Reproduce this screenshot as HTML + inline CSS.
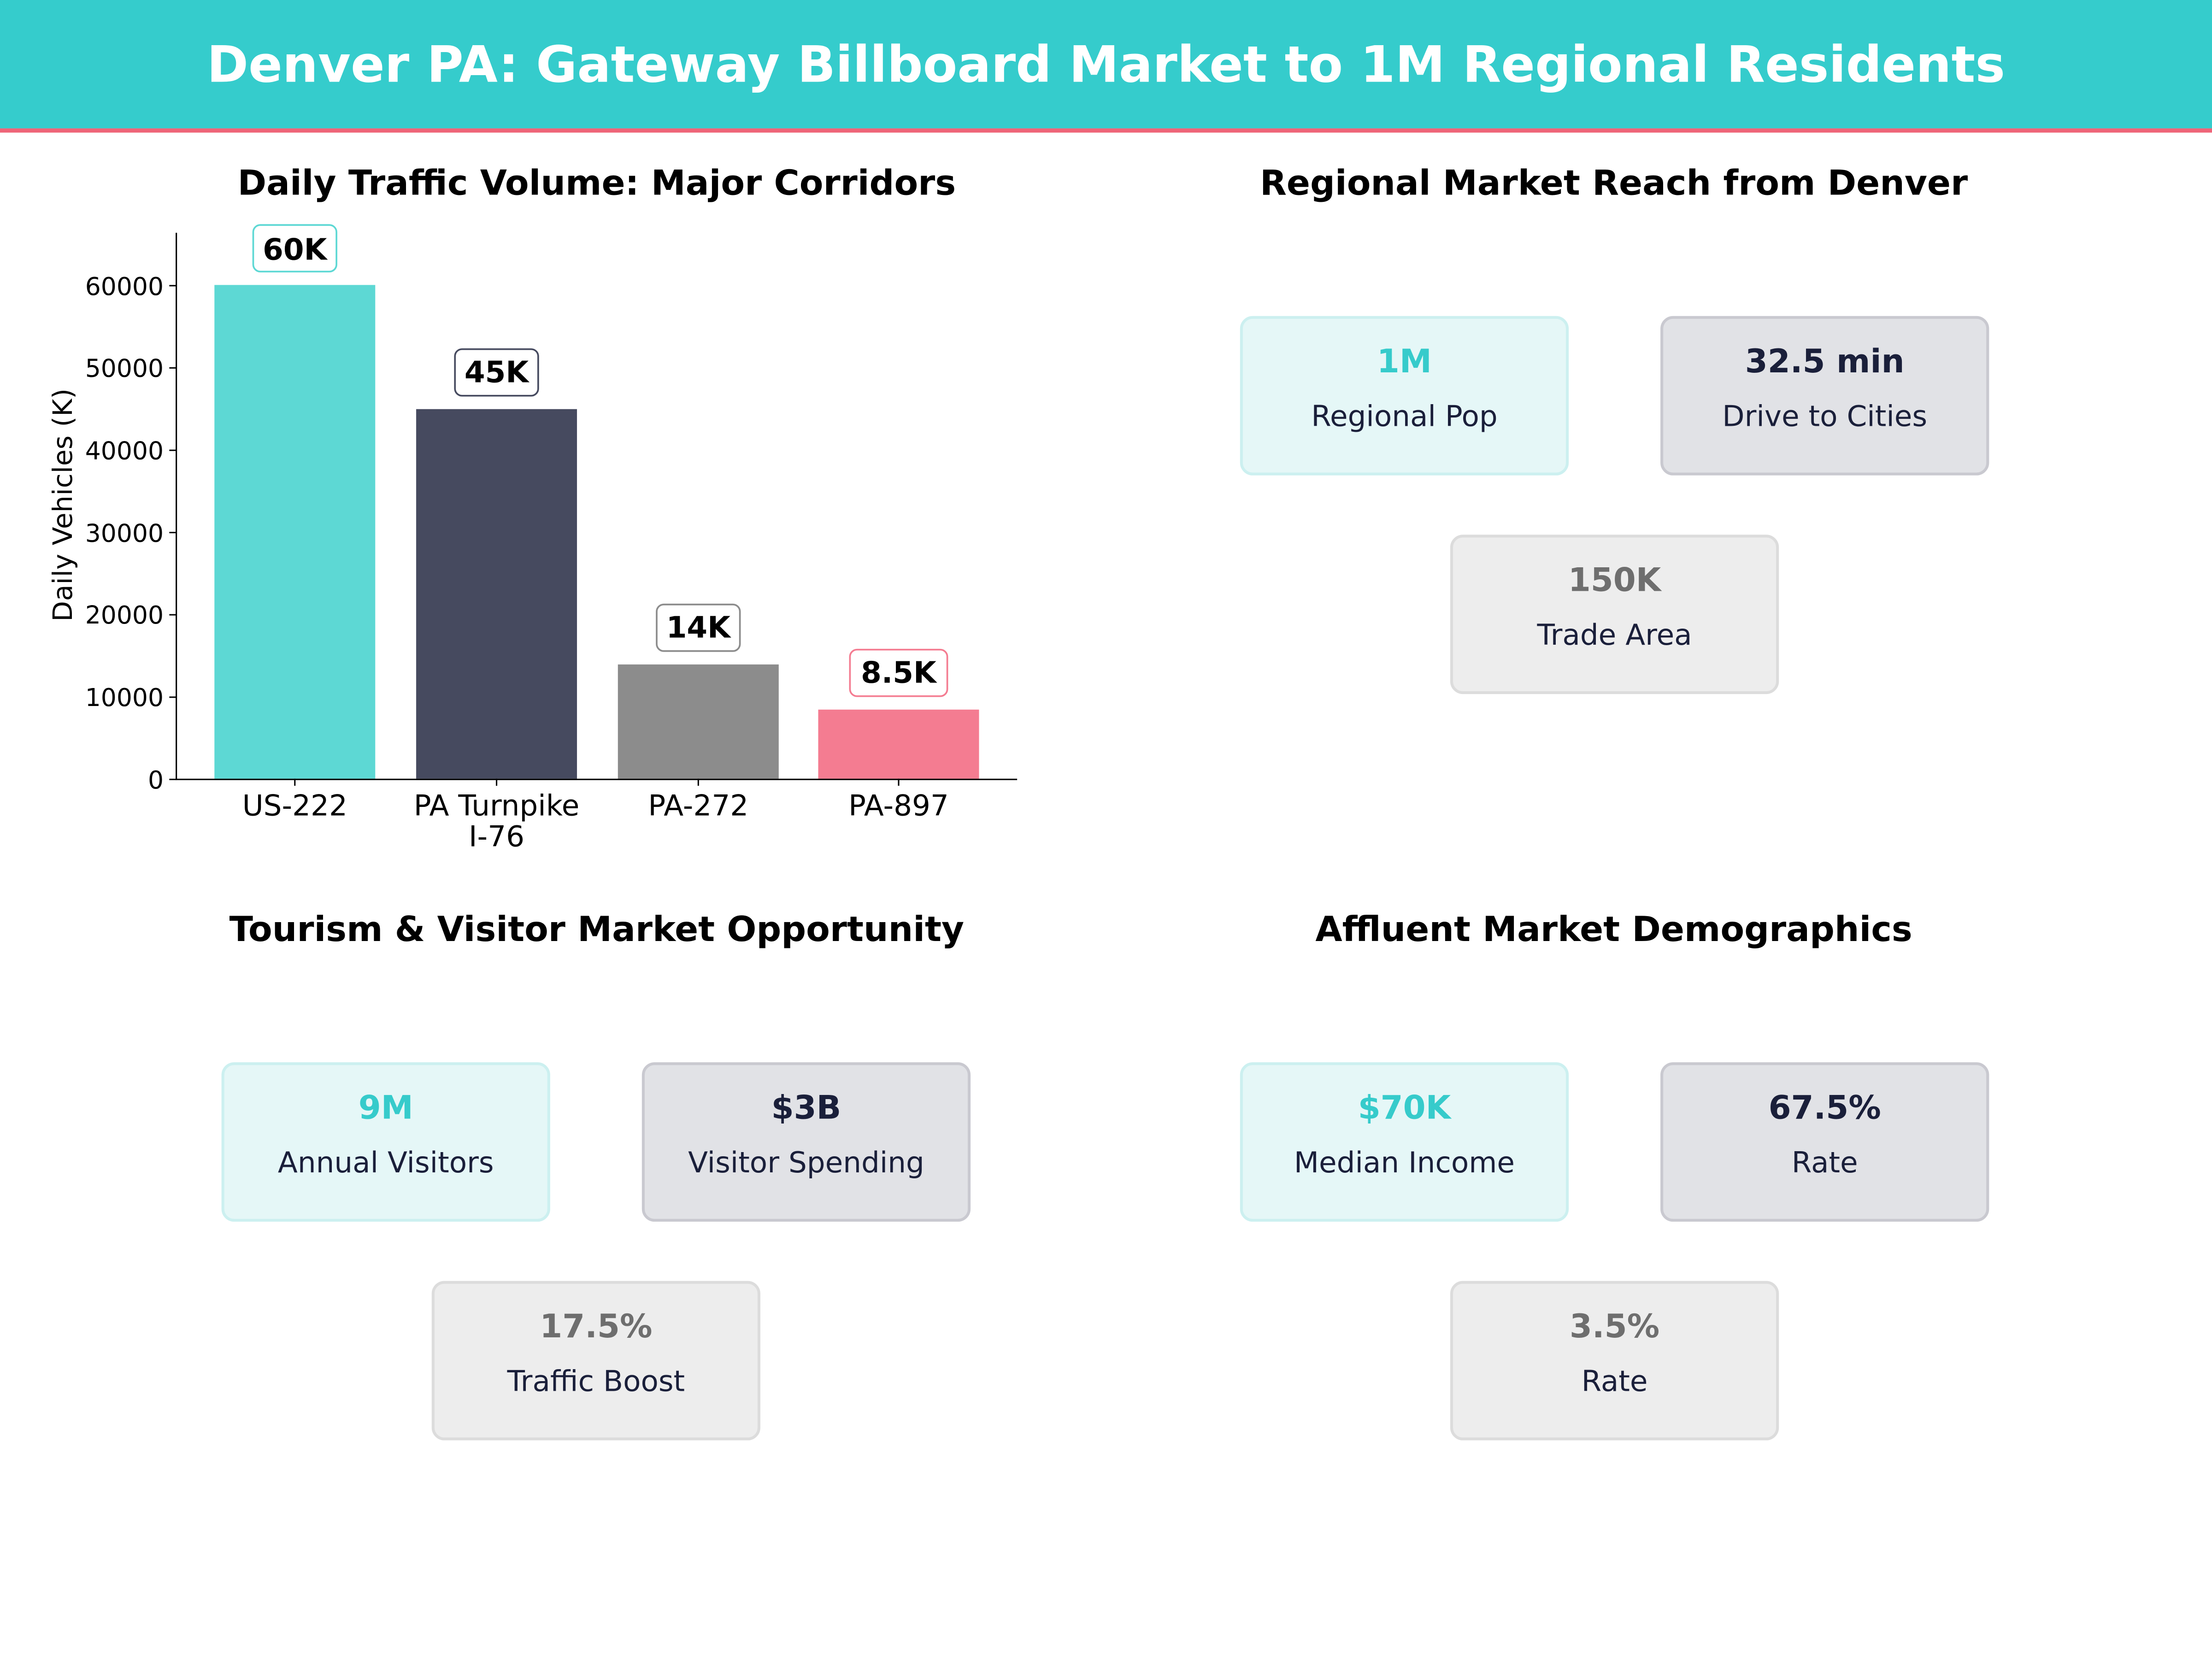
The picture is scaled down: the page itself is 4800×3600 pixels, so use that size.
<!DOCTYPE html>
<html><head><meta charset="utf-8"><style>
html,body{margin:0;padding:0;background:#fff;}
svg{display:block;}
text{font-family:"DejaVu Sans","Liberation Sans",sans-serif;}
</style></head><body>
<svg width="4800" height="3600" viewBox="0 0 1568 1176" xmlns="http://www.w3.org/2000/svg">
<rect x="0" y="0" width="1568" height="1176" fill="#fff"/>
<rect x="0" y="0" width="1568" height="91" fill="#35CCCC"/>
<rect x="0" y="91" width="1568" height="3" fill="#EF6478"/>
<text x="784" y="58" text-anchor="middle" font-size="35.5" font-weight="bold" fill="#fff">Denver PA: Gateway Billboard Market to 1M Regional Residents</text>

<!-- Panel 1 -->
<text x="423" y="138" text-anchor="middle" font-size="24.6" font-weight="bold" fill="#000">Daily Traffic Volume: Major Corridors</text>
<rect x="152" y="202" width="114" height="350" fill="#5DD8D4"/>
<rect x="295" y="290" width="114" height="262" fill="#464A5F"/>
<rect x="438" y="471" width="114" height="81" fill="#8C8C8C"/>
<rect x="580" y="503" width="114" height="49" fill="#F47C91"/>
<line x1="125" y1="165" x2="125" y2="552.5" stroke="#000" stroke-width="1"/>
<line x1="124.5" y1="552.5" x2="721" y2="552.5" stroke="#000" stroke-width="1"/>
<g font-size="17.5" fill="#000" text-anchor="end">
<text x="116" y="559">0</text>
<text x="116" y="500.5">10000</text>
<text x="116" y="442">20000</text>
<text x="116" y="384">30000</text>
<text x="116" y="325.5">40000</text>
<text x="116" y="267">50000</text>
<text x="116" y="209">60000</text>
</g>
<g stroke="#000" stroke-width="1">
<line x1="120" y1="552.5" x2="125" y2="552.5"/><line x1="120" y1="494.2" x2="125" y2="494.2"/>
<line x1="120" y1="435.8" x2="125" y2="435.8"/><line x1="120" y1="377.5" x2="125" y2="377.5"/>
<line x1="120" y1="319.2" x2="125" y2="319.2"/><line x1="120" y1="260.8" x2="125" y2="260.8"/>
<line x1="120" y1="202.5" x2="125" y2="202.5"/>
<line x1="209" y1="552" x2="209" y2="557"/><line x1="352" y1="552" x2="352" y2="557"/>
<line x1="495" y1="552" x2="495" y2="557"/><line x1="637" y1="552" x2="637" y2="557"/>
</g>
<g font-size="20.5" fill="#000" text-anchor="middle">
<text x="209" y="578">US-222</text>
<text x="352" y="578">PA Turnpike</text>
<text x="352" y="600">I-76</text>
<text x="495" y="578">PA-272</text>
<text x="637" y="578">PA-897</text>
</g>
<text transform="translate(51,358) rotate(-90)" text-anchor="middle" font-size="19" fill="#000">Daily Vehicles (K)</text>
<g font-size="21" font-weight="bold" fill="#000" text-anchor="middle">
<rect x="179.5" y="159.5" width="59" height="33" rx="5" fill="#fff" stroke="#5DD8D4" stroke-width="1.2"/>
<text x="209" y="184">60K</text>
<rect x="322.5" y="247.5" width="59" height="33" rx="5" fill="#fff" stroke="#464A5F" stroke-width="1.2"/>
<text x="352" y="271">45K</text>
<rect x="465.5" y="428.5" width="59" height="33" rx="5" fill="#fff" stroke="#8C8C8C" stroke-width="1.2"/>
<text x="495" y="452">14K</text>
<rect x="602.5" y="460.5" width="69" height="33" rx="5" fill="#fff" stroke="#F47C91" stroke-width="1.2"/>
<text x="637" y="484">8.5K</text>
</g>

<!-- Panel 2 -->
<text x="1144" y="138" text-anchor="middle" font-size="24.6" font-weight="bold" fill="#000">Regional Market Reach from Denver</text>
<g text-anchor="middle">
<rect x="880" y="225" width="231" height="111" rx="8" fill="#E5F7F7" stroke="#CCF0F0" stroke-width="2"/>
<text x="995.5" y="264" font-size="23" font-weight="bold" fill="#36CBCB">1M</text>
<text x="995.5" y="302" font-size="20.5" fill="#1A1F3A">Regional Pop</text>
<rect x="1178" y="225" width="231" height="111" rx="8" fill="#E1E2E6" stroke="#C9C9D0" stroke-width="2"/>
<text x="1293.5" y="264" font-size="23" font-weight="bold" fill="#1A1F3A">32.5 min</text>
<text x="1293.5" y="302" font-size="20.5" fill="#1A1F3A">Drive to Cities</text>
<rect x="1029" y="380" width="231" height="111" rx="8" fill="#EDEDED" stroke="#DCDCDC" stroke-width="2"/>
<text x="1144.5" y="419" font-size="23" font-weight="bold" fill="#6E6E6E">150K</text>
<text x="1144.5" y="457" font-size="20.5" fill="#1A1F3A">Trade Area</text>
</g>

<!-- Panel 3 -->
<text x="423" y="667" text-anchor="middle" font-size="24.6" font-weight="bold" fill="#000">Tourism &amp; Visitor Market Opportunity</text>
<g text-anchor="middle">
<rect x="158" y="754" width="231" height="111" rx="8" fill="#E5F7F7" stroke="#CCF0F0" stroke-width="2"/>
<text x="273.5" y="793" font-size="23" font-weight="bold" fill="#36CBCB">9M</text>
<text x="273.5" y="831" font-size="20.5" fill="#1A1F3A">Annual Visitors</text>
<rect x="456" y="754" width="231" height="111" rx="8" fill="#E1E2E6" stroke="#C9C9D0" stroke-width="2"/>
<text x="571.5" y="793" font-size="23" font-weight="bold" fill="#1A1F3A">$3B</text>
<text x="571.5" y="831" font-size="20.5" fill="#1A1F3A">Visitor Spending</text>
<rect x="307" y="909" width="231" height="111" rx="8" fill="#EDEDED" stroke="#DCDCDC" stroke-width="2"/>
<text x="422.5" y="948" font-size="23" font-weight="bold" fill="#6E6E6E">17.5%</text>
<text x="422.5" y="986" font-size="20.5" fill="#1A1F3A">Traffic Boost</text>
</g>

<!-- Panel 4 -->
<text x="1144" y="667" text-anchor="middle" font-size="24.6" font-weight="bold" fill="#000">Affluent Market Demographics</text>
<g text-anchor="middle">
<rect x="880" y="754" width="231" height="111" rx="8" fill="#E5F7F7" stroke="#CCF0F0" stroke-width="2"/>
<text x="995.5" y="793" font-size="23" font-weight="bold" fill="#36CBCB">$70K</text>
<text x="995.5" y="831" font-size="20.5" fill="#1A1F3A">Median Income</text>
<rect x="1178" y="754" width="231" height="111" rx="8" fill="#E1E2E6" stroke="#C9C9D0" stroke-width="2"/>
<text x="1293.5" y="793" font-size="23" font-weight="bold" fill="#1A1F3A">67.5%</text>
<text x="1293.5" y="831" font-size="20.5" fill="#1A1F3A">Rate</text>
<rect x="1029" y="909" width="231" height="111" rx="8" fill="#EDEDED" stroke="#DCDCDC" stroke-width="2"/>
<text x="1144.5" y="948" font-size="23" font-weight="bold" fill="#6E6E6E">3.5%</text>
<text x="1144.5" y="986" font-size="20.5" fill="#1A1F3A">Rate</text>
</g>
</svg>
</body></html>
